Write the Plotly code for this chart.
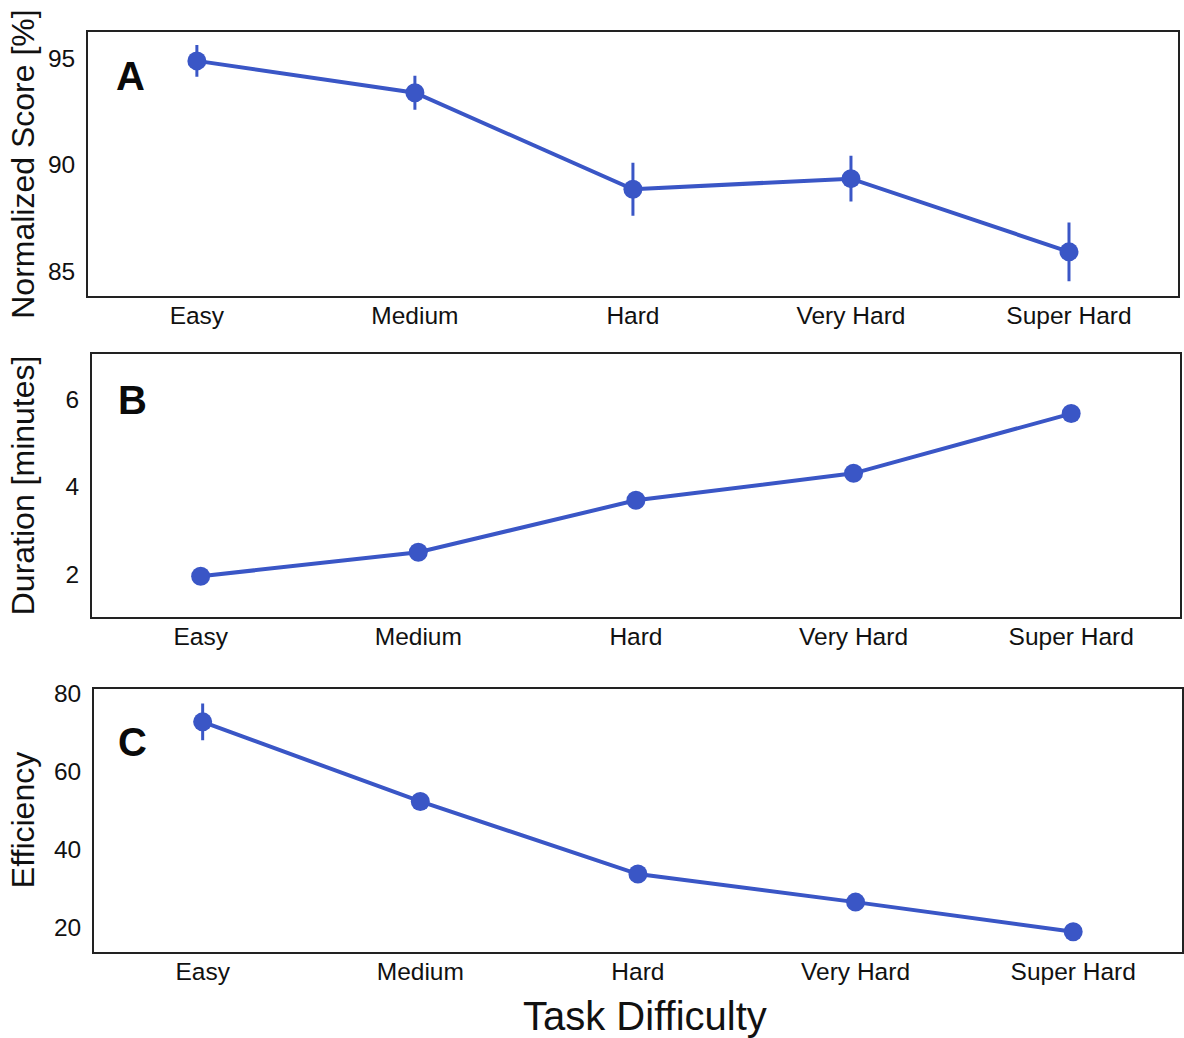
import plotly.graph_objects as go

categories = ["Easy", "Medium", "Hard", "Very Hard", "Super Hard"]

score_mean = [94.9, 93.4, 88.85, 89.35, 85.9]
score_err = [0.75, 0.8, 1.25, 1.08, 1.38]

duration_mean = [1.95, 2.5, 3.69, 4.31, 5.68]
duration_err = [0.05, 0.07, 0.1, 0.08, 0.12]

efficiency_mean = [72.8, 52.4, 33.8, 26.6, 19.0]
efficiency_err = [4.7, 2.2, 1.0, 0.8, 0.5]

score_ticks = [85, 90, 95]
duration_ticks = [2, 4, 6]
efficiency_ticks = [20, 40, 60, 80]

W, H = 1184, 1038
BLUE = "#3a56c6"
FONT = "Liberation Sans, Arial, sans-serif"
TXT = "#111111"


def px_x(p):
    return p / W


def px_y(p):
    return 1 - p / H


panels = [
    dict(vals=score_mean, err=score_err, ticks=score_ticks, rng=[83.83, 96.27],
         xd=[88, 1180], yd=[24, 290], title="Normalized Score [%]", letter="A",
         lpos=(131, 69)),
    dict(vals=duration_mean, err=duration_err, ticks=duration_ticks, rng=[1.02, 7.05],
         xd=[92, 1182], yd=[348.5, 613.5], title="Duration [minutes]", letter="B",
         lpos=(133, 395.5)),
    dict(vals=efficiency_mean, err=efficiency_err, ticks=efficiency_ticks, rng=[13.9, 81.3],
         xd=[94, 1184], yd=[686, 951], title="Efficiency", letter="C",
         lpos=(133, 740)),
]

fig = go.Figure()
layout = dict(
    width=W, height=H,
    margin=dict(l=0, r=0, t=0, b=0),
    paper_bgcolor="white", plot_bgcolor="white",
    showlegend=False,
    font=dict(family=FONT, color=TXT),
)
annotations = []

for i, p in enumerate(panels):
    n = "" if i == 0 else str(i + 1)
    fig.add_trace(go.Scatter(
        x=list(range(len(categories))), y=p["vals"],
        mode="lines+markers",
        line=dict(color=BLUE, width=4),
        marker=dict(color=BLUE, size=19),
        error_y=dict(type="data", array=p["err"], visible=True, color=BLUE,
                     thickness=3, width=0),
        xaxis="x" + n, yaxis="y" + n,
    ))
    layout["xaxis" + n] = dict(
        domain=[px_x(p["xd"][0]), px_x(p["xd"][1])],
        range=[-0.5, 4.5],
        tickmode="array", tickvals=list(range(len(categories))), ticktext=categories,
        tickfont=dict(size=24.5, family=FONT, color=TXT),
        showline=True, linecolor="#222", linewidth=1.5, mirror=True,
        showgrid=False, zeroline=False, ticks="", ticklabelstandoff=-3,
        anchor="y" + n, fixedrange=True,
    )
    layout["yaxis" + n] = dict(
        domain=[px_y(p["yd"][1]), px_y(p["yd"][0])],
        range=p["rng"],
        tickfont=dict(size=24.5, family=FONT, color=TXT),
        tickmode="array", tickvals=p["ticks"],
        showline=True, linecolor="#222", linewidth=1.5, mirror=True,
        showgrid=False, zeroline=False, ticks="", ticklabelstandoff=6,
        anchor="x" + n, fixedrange=True,
    )
    annotations.append(dict(
        x=px_x(23), y=px_y((p["yd"][0] + p["yd"][1]) / 2), xref="paper", yref="paper",
        text=p["title"], textangle=-90, showarrow=False,
        font=dict(size=32, family=FONT, color=TXT),
        xanchor="center", yanchor="middle",
    ))
    annotations.append(dict(
        x=px_x(p["lpos"][0]), y=px_y(p["lpos"][1]), xref="paper", yref="paper",
        text="<b>" + p["letter"] + "</b>", showarrow=False,
        font=dict(size=40, family=FONT, color="#0a0a0a"),
        xanchor="center", yanchor="middle",
    ))

annotations.append(dict(
    x=px_x(646), y=px_y(1016), xref="paper", yref="paper",
    text="Task Difficulty", showarrow=False,
    font=dict(size=40, family=FONT, color=TXT),
    xanchor="center", yanchor="middle",
))

layout["annotations"] = annotations
fig.update_layout(**layout)
fig.write_html("out.html")
